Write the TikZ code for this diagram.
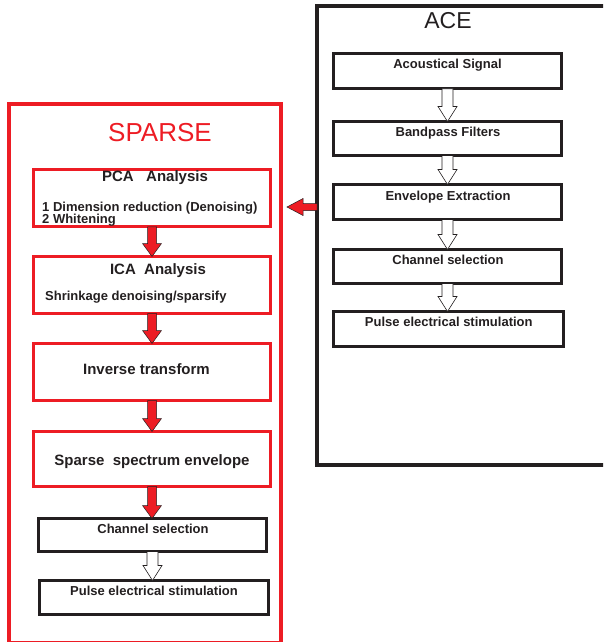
\documentclass[tikz,border=0pt]{standalone}
\usepackage{fontspec}
\setmainfont{Liberation Sans}
\usetikzlibrary{calc}
\definecolor{sparsered}{RGB}{237,28,36}
\definecolor{aceblack}{RGB}{35,31,32}
% block arrow pointing down, #1 style, #2 start, #3 end, #4 half shaft, #5 half head, #6 head length
\newcommand{\blockdown}[6]{%
  \draw[#1] ($(#2)+(-#4,0)$) -- ($(#2 |- #3)+(-#4,-#6)$) -- ($(#2 |- #3)+(-#5,-#6)$) -- (#2 |- #3)
    -- ($(#2 |- #3)+(#5,-#6)$) -- ($(#2 |- #3)+(#4,-#6)$) -- ($(#2)+(#4,0)$) -- cycle;}

\begin{document}
\begin{tikzpicture}[x=1pt,y=-1pt,
	frame/.style={draw,line width=4pt,inner sep=0pt,outer sep=0pt},
	redbox/.style={draw=sparsered,line width=3.3pt,inner sep=0pt,outer sep=0pt},
	blackbox/.style={draw=aceblack,line width=3.4pt,inner sep=0pt,outer sep=0pt},
	boxtext/.style={anchor=base,inner sep=0pt,text=aceblack,font=\bfseries\fontsize{13}{13}\selectfont},
	headtext/.style={anchor=base,inner sep=0pt,text=aceblack,font=\bfseries\fontsize{15}{15}\selectfont},
	hollow/.style={draw=aceblack,fill=white,line width=0.6pt,line join=miter},
	redflow/.style={draw=aceblack,fill=sparsered,line width=0.5pt,line join=miter}]
	\useasboundingbox (0,0) rectangle (603,642);
	\clip (0,0) rectangle (603,642);

	% ACE chain
	\node[frame,draw=aceblack,minimum width=300pt,minimum height=458.2pt] (ace) at (467,235.6) {};
	\node[anchor=base,inner sep=0pt,text=aceblack,font=\fontsize{23}{23}\selectfont] (acetitle) at (448,28.3) {ACE};
	\node[blackbox,minimum width=228pt,minimum height=35.4pt] (signal) at (447.5,71) {};
	\node[blackbox,minimum width=228pt,minimum height=34pt] (bandpass) at (447.5,138.5) {};
	\node[blackbox,minimum width=228pt,minimum height=35pt] (envelope) at (447.5,202) {};
	\node[blackbox,minimum width=228pt,minimum height=34pt] (acechannel) at (447.5,266.5) {};
	\node[blackbox,minimum width=230pt,minimum height=35pt] (acepulse) at (448.5,329) {};
	\node[boxtext] at (447.5,68.3) {Acoustical Signal};
	\node[boxtext] at (448,136) {Bandpass Filters};
	\node[boxtext] at (448,200) {Envelope Extraction};
	\node[boxtext] at (448,264) {Channel selection};
	\node[boxtext] at (448.8,326.7) {Pulse electrical stimulation};
	\blockdown{hollow}{signal.south}{bandpass.north}{5.5}{9.5}{15}
	\blockdown{hollow}{bandpass.south}{envelope.north}{5.5}{9.5}{15}
	\blockdown{hollow}{envelope.south}{acechannel.north}{5.5}{9.5}{15}
	\blockdown{hollow}{acechannel.south}{acepulse.north}{5.5}{9.5}{15}

	% SPARSE chain
	\node[frame,draw=sparsered,minimum width=272.8pt,minimum height=539.3pt] (sparse) at (144.9,373.35) {};
	\node[anchor=base,inner sep=0pt,text=sparsered,font=\fontsize{26}{26}\selectfont] (sparsetitle) at (160,141.7) {SPARSE};
	\node[redbox,minimum width=237pt,minimum height=57.5pt] (pca) at (152,198) {};
	\node[redbox,minimum width=237pt,minimum height=57pt] (ica) at (152,285) {};
	\node[redbox,minimum width=237pt,minimum height=57pt] (inverse) at (152,372) {};
	\node[redbox,minimum width=237pt,minimum height=55pt] (spectrum) at (152,459) {};
	\node[blackbox,minimum width=228pt,minimum height=33pt] (channel) at (152.5,535) {};
	\node[blackbox,minimum width=229pt,minimum height=34pt] (pulse) at (154,597.5) {};
	\node[headtext] at (155,181.7) {PCA\ \ \ Analysis};
	\node[boxtext,anchor=base west] at (42,211.7) {1 Dimension reduction (Denoising)};
	\node[boxtext,anchor=base west] at (42,223.5) {2 Whitening};
	\node[headtext] at (158,274) {ICA\ \ Analysis};
	\node[boxtext,anchor=base west] at (45,300.5) {Shrinkage denoising/sparsify};
	\node[headtext] at (146.5,374) {Inverse transform};
	\node[headtext] at (152,465) {Sparse\ \ spectrum envelope};
	\node[boxtext] at (153,533) {Channel selection};
	\node[boxtext] at (154,595) {Pulse electrical stimulation};
	\blockdown{redflow}{pca.south}{ica.north}{4.5}{9.5}{13}
	\blockdown{redflow}{ica.south}{inverse.north}{4.5}{9.5}{13}
	\blockdown{redflow}{inverse.south}{spectrum.north}{4.5}{9.5}{13}
	\blockdown{redflow}{spectrum.south}{channel.north}{4.5}{9.5}{13}
	\blockdown{hollow}{channel.south}{pulse.north}{5.5}{9.5}{15}

	% ACE feeds SPARSE
	\coordinate (feed) at (287,207);
	\draw[redflow] ($(ace.west |- feed)+(0,-3.5)$) -- ($(feed)+(16,-3.5)$) -- ($(feed)+(16,-8.5)$) -- (feed)
		-- ($(feed)+(16,8.5)$) -- ($(feed)+(16,3.5)$) -- ($(ace.west |- feed)+(0,3.5)$) -- cycle;
\end{tikzpicture}
\end{document}
